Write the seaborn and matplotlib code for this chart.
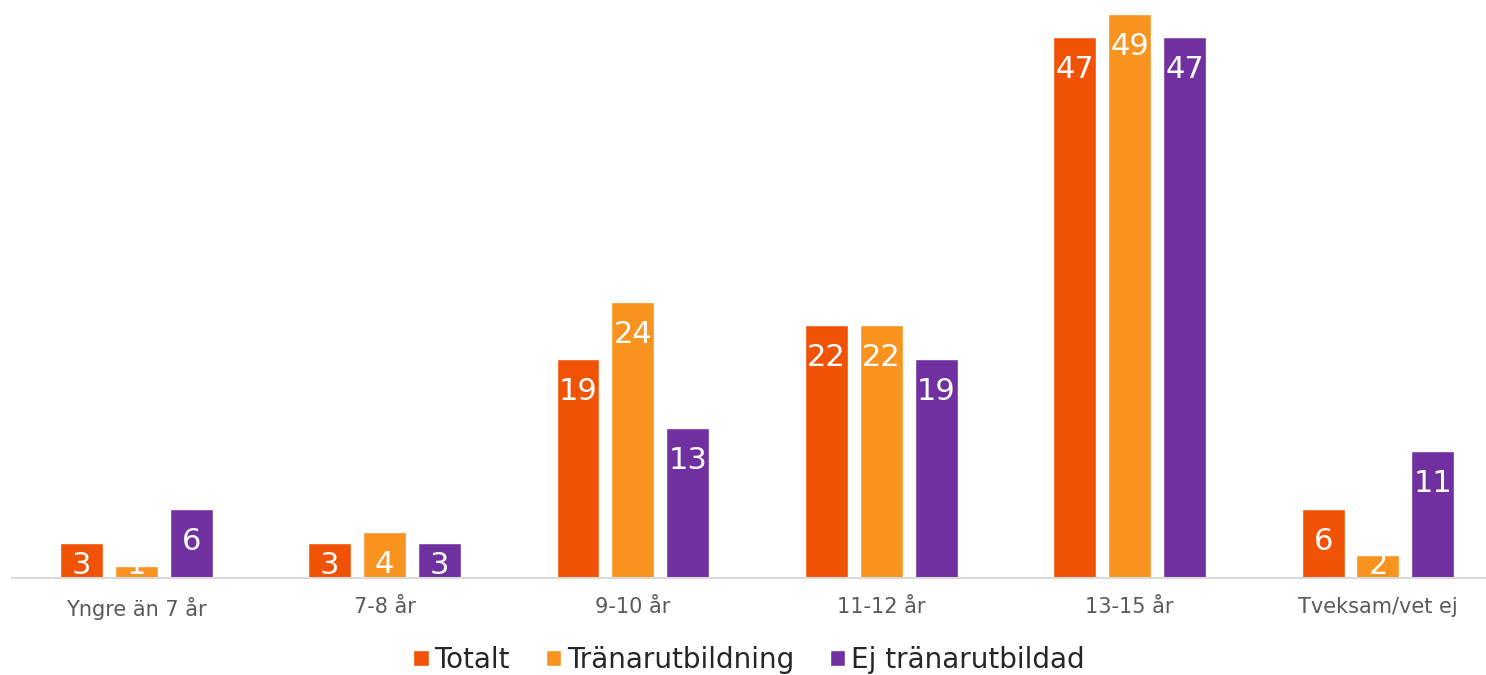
import pandas as pd
import matplotlib
matplotlib.use("Agg")
import matplotlib.pyplot as plt
import seaborn as sns

# --- Data ---
categories = ["Yngre än 7 år", "7-8 år", "9-10 år", "11-12 år", "13-15 år", "Tveksam/vet ej"]
totalt = [3, 3, 19, 22, 47, 6]
tranarutbildning = [1, 4, 24, 22, 49, 2]
ej_tranarutbildad = [6, 3, 13, 19, 47, 11]
series_names = ["Totalt", "Tränarutbildning", "Ej tränarutbildad"]
colors = ["#F05206", "#F7931E", "#7030A0"]

df = pd.DataFrame({
    "Ålder": categories * 3,
    "Grupp": [s for s in series_names for _ in categories],
    "Andel": totalt + tranarutbildning + ej_tranarutbildad,
})

sns.set_theme(style="white")
plt.rcParams["font.family"] = ["DejaVu Sans"]

fig = plt.figure(figsize=(14.86, 6.75), dpi=100)
ax = fig.add_axes([12 / 1486, 0.1437, 1 - 12 / 1486, 0.835])

sns.barplot(data=df, x="Ålder", y="Andel", hue="Grupp", palette=colors,
            width=0.663, gap=0.217, saturation=1, legend=True, ax=ax)

# value labels inside the bars
for cont in ax.containers:
    for bar in cont:
        v = bar.get_height()
        ax.text(bar.get_x() + bar.get_width() / 2, max(v - 2.8, 1.1), f"{v:g}",
                ha="center", va="center", color="white", fontsize=22)

ax.set_ylim(0, 49)
ax.set_xlim(-0.5, 5.435)
ax.set_xlabel("")
ax.set_ylabel("")
ax.set_yticks([])
for s in ["top", "left", "right"]:
    ax.spines[s].set_visible(False)
ax.spines["bottom"].set_color("#D9D9D9")
ax.spines["bottom"].set_linewidth(1.5)
ax.tick_params(axis="x", length=0, pad=14, labelsize=15, labelcolor="#595959")

ax.legend(loc="center", bbox_to_anchor=(0.5, -0.145), ncol=3, frameon=False,
          fontsize=20, handlelength=0.55, handleheight=0.55, handletextpad=0.2,
          columnspacing=1.3)

fig.savefig("out.png", dpi=100)
